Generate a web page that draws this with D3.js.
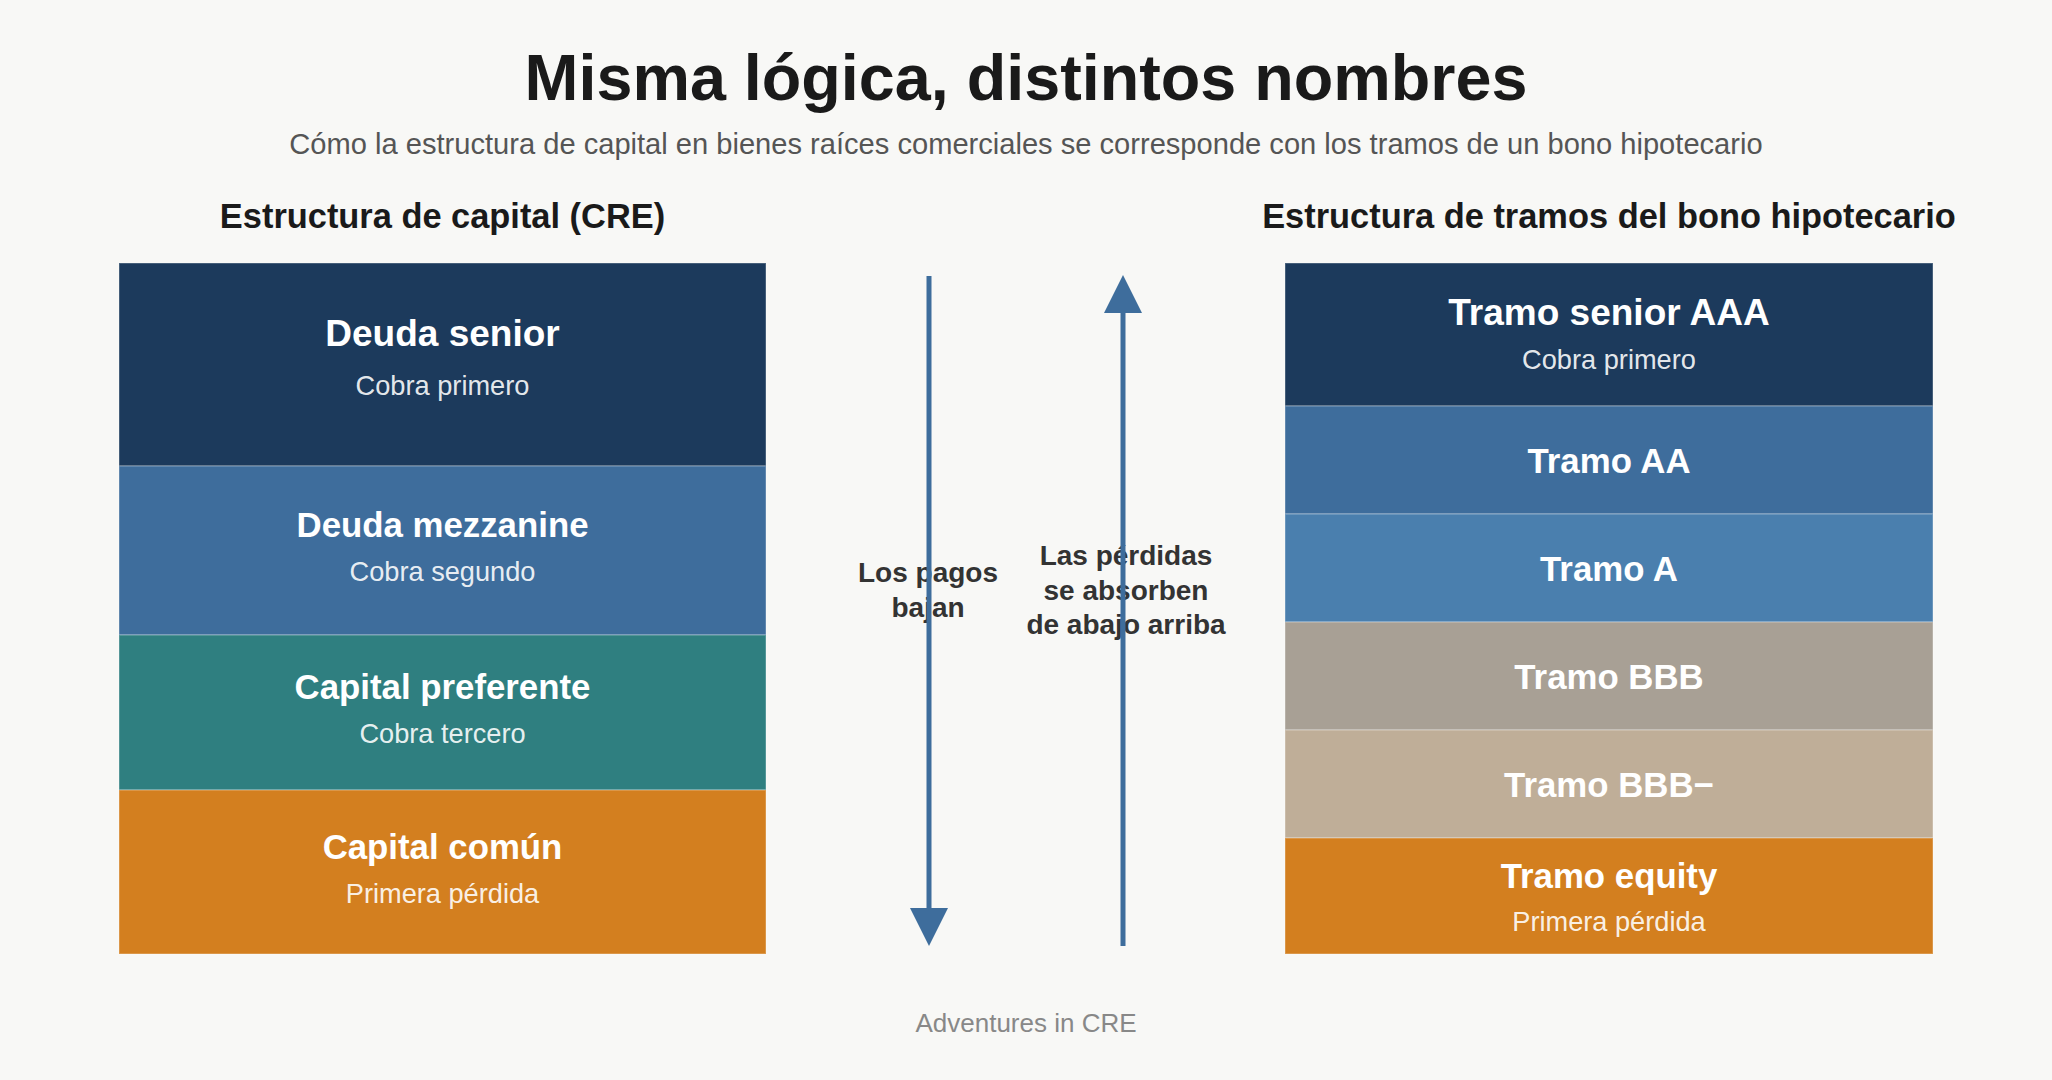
<!DOCTYPE html>
<html lang="es">
<head>
<meta charset="utf-8">
<title>Misma lógica, distintos nombres</title>
<script src="https://cdn.jsdelivr.net/npm/d3@7"></script>
<style>
  html, body { margin: 0; padding: 0; background: #f8f8f6; }
  svg { display: block; font-family: "Liberation Sans", Arial, sans-serif; }
</style>
</head>
<body>
<div id="chart"></div>
<script>
// Left stack: capital structure (top = paid first)
const capitalLabels = ['Deuda senior', 'Deuda mezzanine', 'Capital preferente', 'Capital común'];
const capitalNotes = ['Cobra primero', 'Cobra segundo', 'Cobra tercero', 'Primera pérdida'];
const capitalWeights = [203, 169, 155, 164];
const capitalColors = ['#1c3a5c', '#3e6d9c', '#2f7f80', '#d37f1f'];

// Right stack: mortgage bond tranches
const trancheLabels = ['Tramo senior AAA', 'Tramo AA', 'Tramo A', 'Tramo BBB', 'Tramo BBB−', 'Tramo equity'];
const trancheNotes = ['Cobra primero', '', '', '', '', 'Primera pérdida'];
const trancheWeights = [143, 108, 108, 108, 108, 116];
const trancheColors = ['#1c3a5c', '#3e6d9c', '#4a7fae', '#a8a095', '#bfae98', '#d37f1f'];

// Arrow captions
const payLines = ['Los pagos', 'bajan'];
const lossLines = ['Las pérdidas', 'se absorben', 'de abajo arriba'];

const W = 2052, H = 1080;
const stackTop = 263, stackBottom = 954;
const arrowColor = '#3e6d9c';

const svg = d3.select('#chart').append('svg')
    .attr('width', W)
    .attr('height', H);

svg.append('rect').attr('width', W).attr('height', H).attr('fill', '#f8f8f6');

// Titles
svg.append('text')
    .attr('x', W / 2).attr('y', 100)
    .attr('text-anchor', 'middle')
    .attr('font-size', 64.7).attr('font-weight', 700)
    .attr('fill', '#1a1a1a')
    .text('Misma lógica, distintos nombres');

svg.append('text')
    .attr('x', W / 2).attr('y', 154)
    .attr('text-anchor', 'middle')
    .attr('font-size', 29.1)
    .attr('fill', '#555')
    .text('Cómo la estructura de capital en bienes raíces comerciales se corresponde con los tramos de un bono hipotecario');

/**
 * Draw one stacked column of layers
 * The top (senior) layer gets a slightly larger heading
 */
function drawStack(opts) {
    const { x0, x1, labels, notes, weights, colors, heading, topDy, titleDy, noteDy } = opts;
    const ends = d3.cumsum(weights);
    const y = d3.scaleLinear()
        .domain([0, ends[ends.length - 1]])
        .range([stackTop, stackBottom]);

    const layers = labels.map((label, i) => ({
        index: i,
        label,
        note: notes[i],
        color: colors[i],
        start: i === 0 ? 0 : ends[i - 1],
        end: ends[i]
    }));

    svg.append('text')
        .attr('x', (x0 + x1) / 2).attr('y', 228)
        .attr('text-anchor', 'middle')
        .attr('font-size', 34.4).attr('font-weight', 700)
        .attr('fill', '#1a1a1a')
        .text(heading);

    const g = svg.append('g');

    const cell = g.selectAll('g.layer')
        .data(layers)
        .enter()
        .append('g')
        .attr('class', 'layer');

    cell.append('rect')
        .attr('x', x0)
        .attr('y', d => y(d.start))
        .attr('width', x1 - x0)
        .attr('height', d => y(d.end) - y(d.start))
        .attr('fill', d => d.color)
        .attr('stroke', 'rgba(255,255,255,0.25)')
        .attr('stroke-width', 1.5);

    cell.append('text')
        .attr('x', (x0 + x1) / 2)
        .attr('y', d => {
            const mid = (y(d.start) + y(d.end)) / 2;
            if (!d.note) return mid + 12.5;
            return mid + (d.index === 0 ? topDy : titleDy);
        })
        .attr('text-anchor', 'middle')
        .attr('font-size', d => d.index === 0 ? 37 : 34.8)
        .attr('font-weight', 700)
        .attr('fill', '#ffffff')
        .text(d => d.label);

    cell.filter(d => d.note)
        .append('text')
        .attr('x', (x0 + x1) / 2)
        .attr('y', d => (y(d.start) + y(d.end)) / 2 + noteDy)
        .attr('text-anchor', 'middle')
        .attr('font-size', 27.2)
        .attr('fill', 'rgba(255,255,255,0.9)')
        .text(d => d.note);
}

drawStack({
    x0: 119, x1: 766,
    labels: capitalLabels, notes: capitalNotes,
    weights: capitalWeights, colors: capitalColors,
    heading: 'Estructura de capital (CRE)',
    topDy: -19, titleDy: -13.5, noteDy: 30.5
});

drawStack({
    x0: 1285, x1: 1933,
    labels: trancheLabels, notes: trancheNotes,
    weights: trancheWeights, colors: trancheColors,
    heading: 'Estructura de tramos del bono hipotecario',
    topDy: -10, titleDy: -8, noteDy: 34.5
});

// Arrow captions (drawn first so the arrows sit on top)
function drawCaption(lines, cx, firstBaseline) {
    svg.append('g').selectAll('text')
        .data(lines)
        .enter()
        .append('text')
        .attr('x', cx)
        .attr('y', (d, i) => firstBaseline + i * 34.5)
        .attr('text-anchor', 'middle')
        .attr('font-size', 28).attr('font-weight', 700)
        .attr('fill', '#333')
        .text(d => d);
}

drawCaption(payLines, 928, 582);
drawCaption(lossLines, 1126, 565);

// Arrows
const headLen = 38, headHalf = 19;

function drawArrow(x, yFrom, yTo) {
    const dir = yTo > yFrom ? 1 : -1;
    const base = yTo - dir * headLen;
    svg.append('line')
        .attr('x1', x).attr('y1', yFrom)
        .attr('x2', x).attr('y2', base)
        .attr('stroke', arrowColor)
        .attr('stroke-width', 5);
    svg.append('path')
        .attr('d', d3.line()([[x - headHalf, base], [x + headHalf, base], [x, yTo]]) + 'Z')
        .attr('fill', arrowColor);
}

drawArrow(929, 276, 946);
drawArrow(1123, 946, 275);

// Footer
svg.append('text')
    .attr('x', W / 2).attr('y', 1032)
    .attr('text-anchor', 'middle')
    .attr('font-size', 26)
    .attr('fill', '#888')
    .text('Adventures in CRE');
</script>
</body>
</html>
